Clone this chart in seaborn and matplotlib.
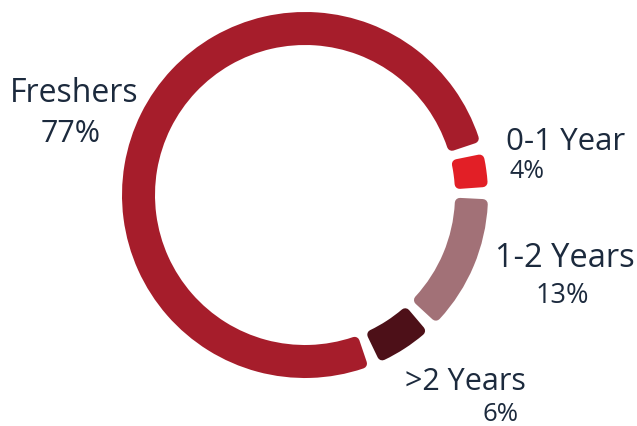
import numpy as np
import matplotlib
matplotlib.use("Agg")
import matplotlib.pyplot as plt
import seaborn as sns

# ---- data ----
categories = ["0-1 Year", "1-2 Years", ">2 Years", "Freshers"]
values = [4, 13, 6, 77]
pct_labels = ["4%", "13%", "6%", "77%"]
colors = ["#E21F26", "#A27177", "#4D1018", "#A61D2B"]

sns.set_theme(style="white")
plt.rcParams['font.family'] = ['Open Sans', 'DejaVu Sans']

W, H = 637, 426
fig = plt.figure(figsize=(W / 100, H / 100), dpi=100)
fig.patch.set_facecolor("white")

# ring geometry (pixels)
cx, cy, R_out, R_in = 305, 195, 183, 150
ax = fig.add_axes([(cx - R_out) / W, (H - cy - R_out) / H, 2 * R_out / W, 2 * R_out / H],
                  projection="polar")
ax.set_ylim(0, 1)
ax.set_axis_off()

lw_px = 10.0
lw_pt = lw_px * 72 / 100
r_mid = (R_out + R_in) / 2
stroke_deg = np.rad2deg(lw_px / r_mid)
gap_deg = 3.6
start_deg = 15.0

vals = np.array(values, dtype=float)
total = vals.sum()
cum_before = np.concatenate([[0], np.cumsum(vals)[:-1]])
span = vals / total * 360.0
theta_c = np.deg2rad(start_deg - (cum_before / total * 360.0 + span / 2))
widths = np.deg2rad(span - gap_deg - stroke_deg)
bottom = (R_in + lw_px / 2) / R_out
height = (R_out - R_in - lw_px) / R_out

bars = ax.bar(theta_c, height, width=widths, bottom=bottom, color=colors,
              align="center")
for b, c in zip(bars, colors):
    b.set_edgecolor(c)
    b.set_linewidth(lw_pt)
    b.set_joinstyle("round")
    b.set_clip_on(False)

txt = "#1C2A3D"
def put(x, y, s, size):
    fig.text(x / W, 1 - y / H, s, ha="center", va="baseline", fontsize=size, color=txt)

label_pos = {"Freshers": (74, 102, 23), "0-1 Year": (566, 150, 22.5),
             "1-2 Years": (565, 267, 23.5), ">2 Years": (465, 390, 22)}
pct_pos = {"Freshers": (71, 142, 22), "0-1 Year": (527, 178, 18),
           "1-2 Years": (562, 303, 19.5), ">2 Years": (500, 421, 18.5)}
for cat, p in zip(categories, pct_labels):
    x, y, s = label_pos[cat]
    put(x, y, cat, s)
    x, y, s = pct_pos[cat]
    put(x, y, p, s)

fig.savefig("out.png", dpi=100, facecolor="white")
